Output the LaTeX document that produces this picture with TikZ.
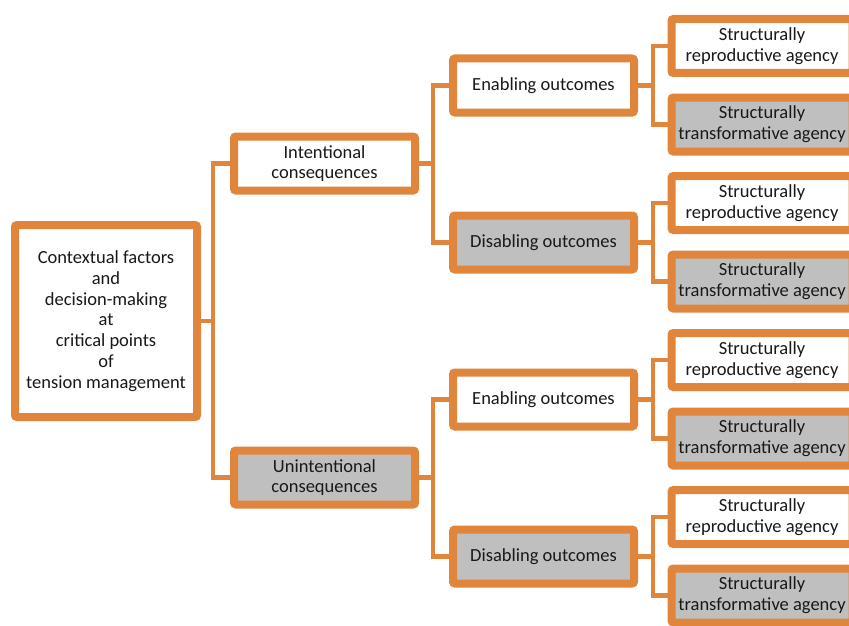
\documentclass[tikz,border=0pt]{standalone}
\usepackage{fontspec}
\setmainfont{Carlito}
\usetikzlibrary{shadows,backgrounds}
\definecolor{orng}{RGB}{224,133,60}
\definecolor{gfill}{RGB}{191,191,191}
\definecolor{txt}{RGB}{25,25,25}
\begin{document}
\begin{tikzpicture}[x=1pt,y=-1pt,
  box/.style={draw=orng, line width=8pt, rounded corners=2pt, fill=white,
    minimum width=181pt, minimum height=54pt, inner sep=0pt, align=center,
    text=txt, font=\fontsize{18.5}{20.8}\selectfont,
    drop shadow={shadow xshift=2pt, shadow yshift=-3pt, opacity=0.3, fill=black!70}},
  gbox/.style={box, fill=gfill},
  conn/.style={draw=orng, line width=4.5pt}]
\useasboundingbox (0,0) rectangle (849,626);
\begin{scope}
\clip (0,0) rectangle (849,626);
% root
\node[box, minimum width=182pt, minimum height=192pt] (root) at (106,321)
  {Contextual factors\\and\\decision-making\\at\\critical points\\of\\tension management};
% level 1
\node[box]  (int) at (324.5,163.5) {Intentional\\consequences};
\node[gbox] (uni) at (324.5,477.5) {Unintentional\\consequences};
% level 2
\node[box]  (en1) at (543.5,85.5)  {Enabling outcomes};
\node[gbox] (di1) at (543.5,242.5) {Disabling outcomes};
\node[box]  (en2) at (543.5,399.5) {Enabling outcomes};
\node[gbox] (di2) at (543.5,556.5) {Disabling outcomes};
% leaves
\node[box]  (a1) at (762,46)    {Structurally\\reproductive agency};
\node[gbox] (b1) at (762,124.5) {Structurally\\transformative agency};
\node[box]  (a2) at (762,203)   {Structurally\\reproductive agency};
\node[gbox] (b2) at (762,281.5) {Structurally\\transformative agency};
\node[box]  (a3) at (762,360)   {Structurally\\reproductive agency};
\node[gbox] (b3) at (762,438.5) {Structurally\\transformative agency};
\node[box]  (a4) at (762,517)   {Structurally\\reproductive agency};
\node[gbox] (b4) at (762,595.5) {Structurally\\transformative agency};
% connectors
\begin{pgfonlayer}{background}
\draw[conn] (root.east) -- ++(12,0) coordinate (f0);
\draw[conn] (f0) |- (int.west);
\draw[conn] (f0) |- (uni.west);
\draw[conn] (int.east) -- ++(14,0) coordinate (f1);
\draw[conn] (f1) |- (en1.west);
\draw[conn] (f1) |- (di1.west);
\draw[conn] (uni.east) -- ++(14,0) coordinate (f2);
\draw[conn] (f2) |- (en2.west);
\draw[conn] (f2) |- (di2.west);
\draw[conn] (en1.east) -- ++(15,0) coordinate (g1);
\draw[conn] (g1) |- (a1.west);
\draw[conn] (g1) |- (b1.west);
\draw[conn] (di1.east) -- ++(15,0) coordinate (g2);
\draw[conn] (g2) |- (a2.west);
\draw[conn] (g2) |- (b2.west);
\draw[conn] (en2.east) -- ++(15,0) coordinate (g3);
\draw[conn] (g3) |- (a3.west);
\draw[conn] (g3) |- (b3.west);
\draw[conn] (di2.east) -- ++(15,0) coordinate (g4);
\draw[conn] (g4) |- (a4.west);
\draw[conn] (g4) |- (b4.west);
\end{pgfonlayer}
\end{scope}
\end{tikzpicture}
\end{document}
